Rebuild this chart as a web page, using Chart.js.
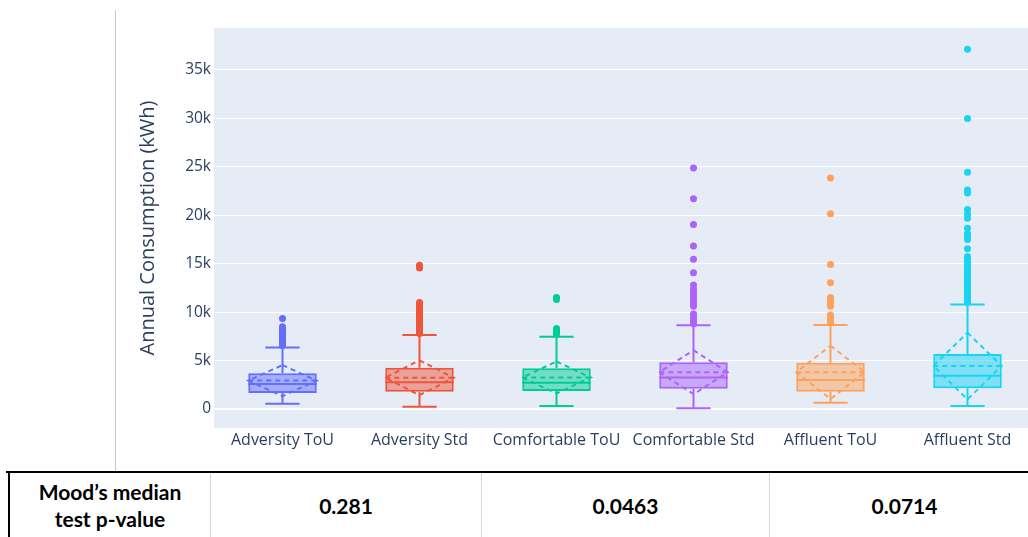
<!DOCTYPE html>
<html>
<head>
<meta charset="utf-8">
<title>Annual Consumption by Group</title>
<script src="https://cdn.jsdelivr.net/npm/chart.js@4.4.1/dist/chart.umd.min.js"></script>
<style>
  html, body { margin: 0; padding: 0; background: #fff; width: 1028px; height: 537px; overflow: hidden; position: relative; }
  #wrap { position: absolute; left: 0; top: 0; width: 1040px; height: 465px; }
  #divider { position: absolute; left: 115px; top: 10px; width: 1px; height: 462px; background: #c9c9c9; }
  #tableTop { position: absolute; left: 6px; top: 471px; width: 1040px; height: 2px; background: #000; }
  .cell { position: absolute; top: 473px; height: 64px; display: flex; align-items: center; justify-content: center;
          text-align: center; font-family: Lato, "Liberation Sans", sans-serif; font-weight: bold; font-size: 21px;
          line-height: 27px; color: #000; box-sizing: border-box; }
</style>
</head>
<body>
<div id="wrap"><canvas id="chart" width="1040" height="465"></canvas></div>
<div id="divider"></div>
<div id="tableTop"></div>
<div id="table"></div>
<script>
// Groups on the x axis
const categories = ['Adversity ToU', 'Adversity Std', 'Comfortable ToU', 'Comfortable Std', 'Affluent ToU', 'Affluent Std'];

// Box statistics per group (kWh)
const q1          = [1650, 1790, 1870, 2080, 1790, 2130];
const medians     = [2580, 2750, 2700, 3250, 2990, 3420];
const q3          = [3700, 4250, 4200, 4820, 4780, 5680];
const lowerFences = [550, 240, 310, 70, 650, 310];
const upperFences = [6350, 7640, 7460, 8650, 8670, 10800];
const means       = [2930, 3230, 3250, 3800, 3790, 4440];
const stdDevs     = [1600, 1800, 1650, 2270, 2750, 3440];

// Outlying households per group (kWh)
const outliersAdversityToU = [6550, 6700, 6850, 7000, 7150, 7300, 7450, 7600, 7750, 7900, 8050, 8200, 8350, 8500, 9350];
const outliersAdversityStd = [7800, 8000, 8200, 8400, 8600, 8800, 9000, 9200, 9400, 9600, 9800, 10000, 10200, 10400,
                              10600, 10800, 11000, 14550, 14850];
const outliersComfortableToU = [7750, 7950, 8150, 8300, 11300, 11500];
const outliersComfortableStd = [8800, 9000, 9200, 9500, 9800, 10600, 10900, 11200, 11500, 11800, 12100, 12400, 12800,
                                14070, 15450, 16820, 19060, 21700, 24870];
const outliersAffluentToU = [8900, 9100, 9300, 9500, 9700, 10600, 10900, 11200, 11500, 13030, 14930, 20160, 23840];
const outliersAffluentStd = [11000, 11250, 11500, 11750, 12000, 12250, 12500, 12750, 13000, 13250, 13500, 13750, 14000,
                             14250, 14500, 14750, 15000, 15250, 15500, 15750, 16550, 17500, 17800, 18100, 18650, 19700,
                             20100, 20600, 22300, 22600, 24430, 30000, 37150];

// Y axis ticks and their labels
const yTicks = [0, 5000, 10000, 15000, 20000, 25000, 30000, 35000];
const yTickLabels = ['0', '5k', '10k', '15k', '20k', '25k', '30k', '35k'];

// Mood's median test results
const statLabel = ['Mood’s median', 'test p-value'];
const pValues = ['0.281', '0.0463', '0.0714'];

const outlierSets = [outliersAdversityToU, outliersAdversityStd, outliersComfortableToU,
                     outliersComfortableStd, outliersAffluentToU, outliersAffluentStd];

const colors = ['#636EFA', '#EF553B', '#00CC96', '#AB63FA', '#FFA15A', '#19D3F3'];
const fills  = ['rgba(99,110,250,0.5)', 'rgba(239,85,59,0.5)', 'rgba(0,204,150,0.5)',
                'rgba(171,99,250,0.5)', 'rgba(255,161,90,0.5)', 'rgba(25,211,243,0.5)'];
const fontAxis = '"Open Sans", "DejaVu Sans", sans-serif';
const axisColor = '#2a3f5f';

// Plot background
const plotBackground = {
  id: 'plotBackground',
  beforeDraw(chart) {
    const { ctx, chartArea: a } = chart;
    ctx.save();
    ctx.fillStyle = '#E5ECF6';
    ctx.fillRect(a.left, a.top, a.right - a.left, a.bottom - a.top);
    ctx.restore();
  }
};

// Whiskers, median, mean line and ±SD diamond for each box
const boxDecor = {
  id: 'boxDecor',
  afterDatasetsDraw(chart) {
    const { ctx } = chart;
    const xs = chart.scales.x, ys = chart.scales.y;
    const meta = chart.getDatasetMeta(0);
    ctx.save();
    ctx.lineWidth = 2;
    categories.forEach((c, i) => {
      const cx = xs.getPixelForValue(i);
      const half = meta.data[i].width / 2;
      const cap = half / 2;
      const py = v => ys.getPixelForValue(v);
      ctx.strokeStyle = colors[i];
      ctx.setLineDash([]);
      ctx.beginPath();
      // lower whisker
      ctx.moveTo(cx, py(q1[i])); ctx.lineTo(cx, py(lowerFences[i]));
      ctx.moveTo(cx - cap, py(lowerFences[i])); ctx.lineTo(cx + cap, py(lowerFences[i]));
      // upper whisker
      ctx.moveTo(cx, py(q3[i])); ctx.lineTo(cx, py(upperFences[i]));
      ctx.moveTo(cx - cap, py(upperFences[i])); ctx.lineTo(cx + cap, py(upperFences[i]));
      // median
      ctx.moveTo(cx - half, py(medians[i])); ctx.lineTo(cx + half, py(medians[i]));
      ctx.stroke();
      // mean and standard deviation
      ctx.setLineDash([5, 4]);
      ctx.beginPath();
      ctx.moveTo(cx - half, py(means[i])); ctx.lineTo(cx + half, py(means[i]));
      ctx.stroke();
      ctx.beginPath();
      ctx.moveTo(cx, py(means[i] + stdDevs[i]));
      ctx.lineTo(cx + half, py(means[i]));
      ctx.lineTo(cx, py(means[i] - stdDevs[i]));
      ctx.lineTo(cx - half, py(means[i]));
      ctx.closePath();
      ctx.stroke();
    });
    ctx.restore();
  }
};

new Chart(document.getElementById('chart'), {
  type: 'bar',
  data: {
    labels: categories,
    datasets: [
      {
        type: 'bar',
        data: categories.map((c, i) => [q1[i], q3[i]]),
        backgroundColor: fills,
        borderColor: colors,
        borderWidth: 2,
        borderSkipped: false,
        barPercentage: 0.5,
        categoryPercentage: 1
      },
      ...outlierSets.map((pts, i) => ({
        type: 'scatter',
        data: pts.map(v => ({ x: categories[i], y: v })),
        pointRadius: 3.5,
        pointBackgroundColor: colors[i],
        pointBorderWidth: 0,
        showLine: false
      }))
    ]
  },
  options: {
    responsive: false,
    animation: false,
    devicePixelRatio: 1,
    events: [],
    layout: { padding: { left: 0, top: 28, right: 4, bottom: 0 } },
    plugins: { legend: { display: false }, tooltip: { enabled: false } },
    scales: {
      x: {
        type: 'category',
        offset: true,
        grid: { display: false, drawTicks: false },
        border: { display: false },
        ticks: { color: axisColor, font: { family: fontAxis, size: 16 }, padding: 3, maxRotation: 0, autoSkip: false },
        afterFit(scale) { scale.height = 37; }
      },
      y: {
        min: -1962,
        max: 39335,
        afterBuildTicks(scale) { scale.ticks = yTicks.map(v => ({ value: v })); },
        grid: {
          color: '#ffffff',
          lineWidth: c => (c.tick && c.tick.value === 0 ? 2 : 1),
          drawTicks: false
        },
        border: { display: false },
        ticks: {
          color: axisColor,
          font: { family: fontAxis, size: 15.5 },
          padding: 3,
          callback: (v, idx) => yTickLabels[idx]
        },
        title: {
          display: true,
          text: 'Annual Consumption (kWh)',
          color: axisColor,
          font: { family: fontAxis, size: 20 },
          padding: { top: 136, bottom: 0 }
        },
        afterFit(scale) { scale.width = 214; }
      }
    }
  },
  plugins: [plotBackground, boxDecor]
});

// Statistics row below the chart
const table = document.getElementById('table');
const cols = [{ left: 8, width: 202 }, { left: 210, width: 271 }, { left: 481, width: 288 }, { left: 769, width: 270 }];
const cellTexts = [statLabel.join('<br>'), ...pValues];
cellTexts.forEach((t, i) => {
  const d = document.createElement('div');
  d.className = 'cell';
  d.style.left = cols[i].left + 'px';
  d.style.width = cols[i].width + 'px';
  d.style.borderLeft = i === 0 ? '2px solid #000' : '1px solid #d4d4d4';
  d.innerHTML = t;
  table.appendChild(d);
});
</script>
</body>
</html>
